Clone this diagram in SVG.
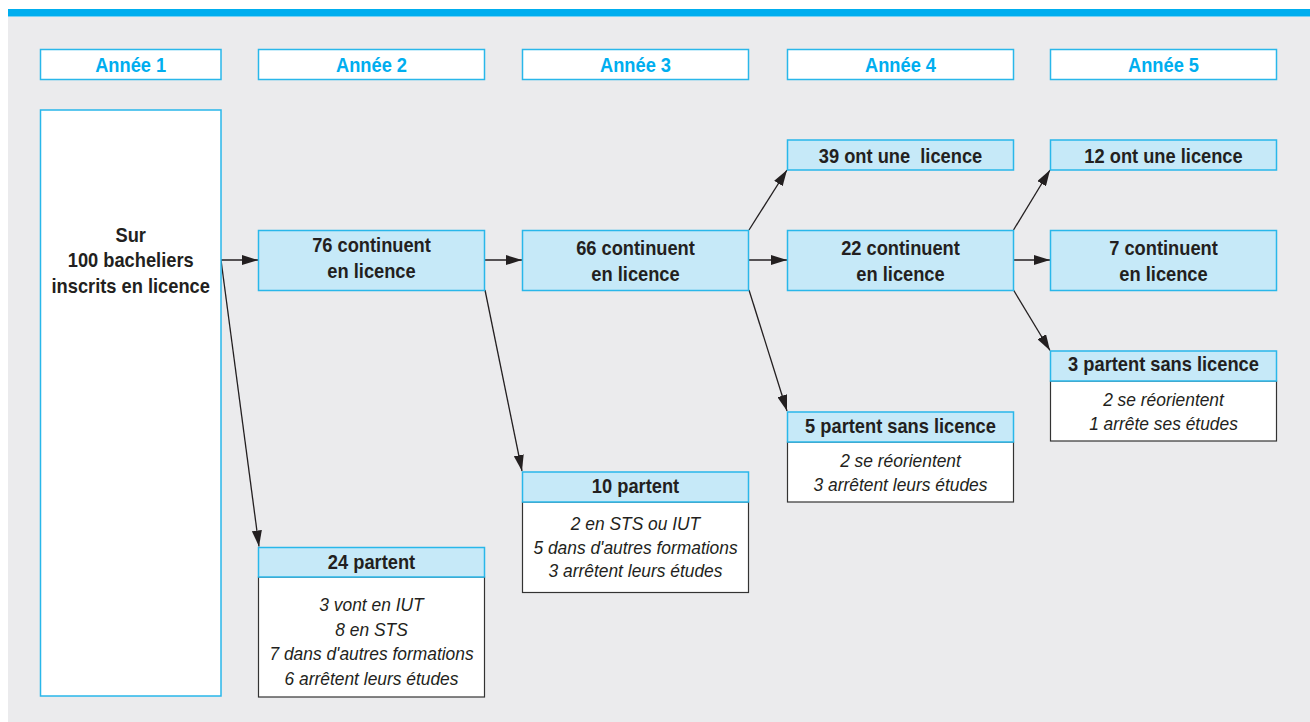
<svg xmlns="http://www.w3.org/2000/svg" width="1310" height="722" viewBox="0 0 1310 722">
<style>
.b{font-family:"Liberation Sans",Arial,sans-serif;font-weight:bold;font-size:21px;fill:#231f20;text-anchor:middle}
.h{font-family:"Liberation Sans",Arial,sans-serif;font-weight:bold;font-size:21px;fill:#00aeef;text-anchor:middle}
.i{font-family:"Liberation Sans",Arial,sans-serif;font-style:italic;font-size:18.5px;fill:#231f20;text-anchor:middle}
.yr{fill:#ffffff;stroke:#29b7ea;stroke-width:1.5}
.bl{fill:#c6e9f8;stroke:#29b7ea;stroke-width:1.5}
.wb{fill:#ffffff;stroke:#333333;stroke-width:1.2}
.c{stroke:#231f20;stroke-width:1.3;fill:none;marker-end:url(#ah)}
</style>
<defs>
<marker id="ah" markerUnits="userSpaceOnUse" markerWidth="16" markerHeight="10" refX="16" refY="5" orient="auto">
<path d="M0,0 L16,5 L0,10 z" fill="#231f20"/>
</marker>
</defs>
<rect x="0" y="0" width="1310" height="722" fill="#ffffff"/>
<rect x="8" y="16.5" width="1302" height="706" fill="#ebebed"/>
<rect x="8" y="9" width="1302" height="7.5" fill="#00aeef"/>

<g id="annee1"><rect class="yr" x="40.5" y="49.5" width="180.5" height="30"/><text class="h" transform="translate(130.7,71.5) scale(.87,1)">Année 1</text></g>
<g id="annee2"><rect class="yr" x="258.5" y="49.5" width="226" height="30"/><text class="h" transform="translate(371.5,71.5) scale(.87,1)">Année 2</text></g>
<g id="annee3"><rect class="yr" x="522.5" y="49.5" width="226" height="30"/><text class="h" transform="translate(635.5,71.5) scale(.87,1)">Année 3</text></g>
<g id="annee4"><rect class="yr" x="787.5" y="49.5" width="226" height="30"/><text class="h" transform="translate(900.5,71.5) scale(.87,1)">Année 4</text></g>
<g id="annee5"><rect class="yr" x="1050.5" y="49.5" width="226" height="30"/><text class="h" transform="translate(1163.5,71.5) scale(.87,1)">Année 5</text></g>

<g id="connectors">
<line class="c" x1="221" y1="260" x2="258" y2="260"/>
<line class="c" x1="221" y1="260" x2="259" y2="546.5"/>
<line class="c" x1="484.5" y1="260" x2="522" y2="260"/>
<line class="c" x1="485" y1="290" x2="522" y2="471"/>
<line class="c" x1="748.5" y1="260" x2="787" y2="260"/>
<line class="c" x1="749" y1="230" x2="787" y2="170"/>
<line class="c" x1="749" y1="290" x2="787" y2="411"/>
<line class="c" x1="1013.5" y1="260" x2="1050" y2="260"/>
<line class="c" x1="1013.5" y1="230" x2="1050" y2="170"/>
<line class="c" x1="1013.5" y1="290" x2="1050" y2="350.5"/>
</g>

<g id="bacheliers"><rect class="yr" x="40.5" y="110" width="180.5" height="586"/>
<text class="b" transform="translate(130.7,0) scale(.87,1)"><tspan x="0" y="242">Sur</tspan><tspan x="0" y="267.5">100 bacheliers</tspan><tspan x="0" y="293">inscrits en licence</tspan></text></g>

<g id="continuent76"><rect class="bl" x="258.5" y="230.5" width="226" height="60"/>
<text class="b" transform="translate(371.5,0) scale(.87,1)"><tspan x="0" y="252.5">76 continuent</tspan><tspan x="0" y="278">en licence</tspan></text></g>

<g id="partent24"><rect class="wb" x="258.5" y="577" width="226" height="120"/><rect class="bl" x="258.5" y="547.5" width="226" height="29.5"/>
<text class="b" transform="translate(371.5,568.5) scale(.87,1)">24 partent</text>
<text class="i" transform="translate(371.5,0) scale(.94,1)"><tspan x="0" y="611.5">3 vont en IUT</tspan><tspan x="0" y="636">8 en STS</tspan><tspan x="0" y="660.5">7 dans d'autres formations</tspan><tspan x="0" y="685">6 arrêtent leurs études</tspan></text></g>

<g id="continuent66"><rect class="bl" x="522.5" y="230.5" width="226" height="60"/>
<text class="b" transform="translate(635.5,0) scale(.87,1)"><tspan x="0" y="255">66 continuent</tspan><tspan x="0" y="281">en licence</tspan></text></g>

<g id="partent10"><rect class="wb" x="522.5" y="502" width="226" height="90.5"/><rect class="bl" x="522.5" y="472" width="226" height="30"/>
<text class="b" transform="translate(635.5,492.5) scale(.87,1)">10 partent</text>
<text class="i" transform="translate(635.5,0) scale(.94,1)"><tspan x="0" y="530.5">2 en STS ou IUT</tspan><tspan x="0" y="554">5 dans d'autres formations</tspan><tspan x="0" y="577.5">3 arrêtent leurs études</tspan></text></g>

<g id="licence39"><rect class="bl" x="787.5" y="140" width="226" height="30"/>
<text class="b" transform="translate(900.5,162.5) scale(.87,1)" xml:space="preserve">39 ont une  licence</text></g>

<g id="continuent22"><rect class="bl" x="787.5" y="230.5" width="226" height="60"/>
<text class="b" transform="translate(900.5,0) scale(.87,1)"><tspan x="0" y="255">22 continuent</tspan><tspan x="0" y="281">en licence</tspan></text></g>

<g id="partent5"><rect class="wb" x="787.5" y="442" width="226" height="60"/><rect class="bl" x="787.5" y="412" width="226" height="30"/>
<text class="b" transform="translate(900.5,432.5) scale(.87,1)">5 partent sans licence</text>
<text class="i" transform="translate(900.5,0) scale(.94,1)"><tspan x="0" y="467.5">2 se réorientent</tspan><tspan x="0" y="491">3 arrêtent leurs études</tspan></text></g>

<g id="licence12"><rect class="bl" x="1050.5" y="140" width="226" height="30"/>
<text class="b" transform="translate(1163.5,162.5) scale(.87,1)">12 ont une licence</text></g>

<g id="continuent7"><rect class="bl" x="1050.5" y="230.5" width="226" height="60"/>
<text class="b" transform="translate(1163.5,0) scale(.87,1)"><tspan x="0" y="255">7 continuent</tspan><tspan x="0" y="281">en licence</tspan></text></g>

<g id="partent3"><rect class="wb" x="1050.5" y="381" width="226" height="60"/><rect class="bl" x="1050.5" y="351" width="226" height="30"/>
<text class="b" transform="translate(1163.5,371) scale(.87,1)">3 partent sans licence</text>
<text class="i" transform="translate(1163.5,0) scale(.94,1)"><tspan x="0" y="406">2 se réorientent</tspan><tspan x="0" y="430">1 arrête ses études</tspan></text></g>
</svg>
